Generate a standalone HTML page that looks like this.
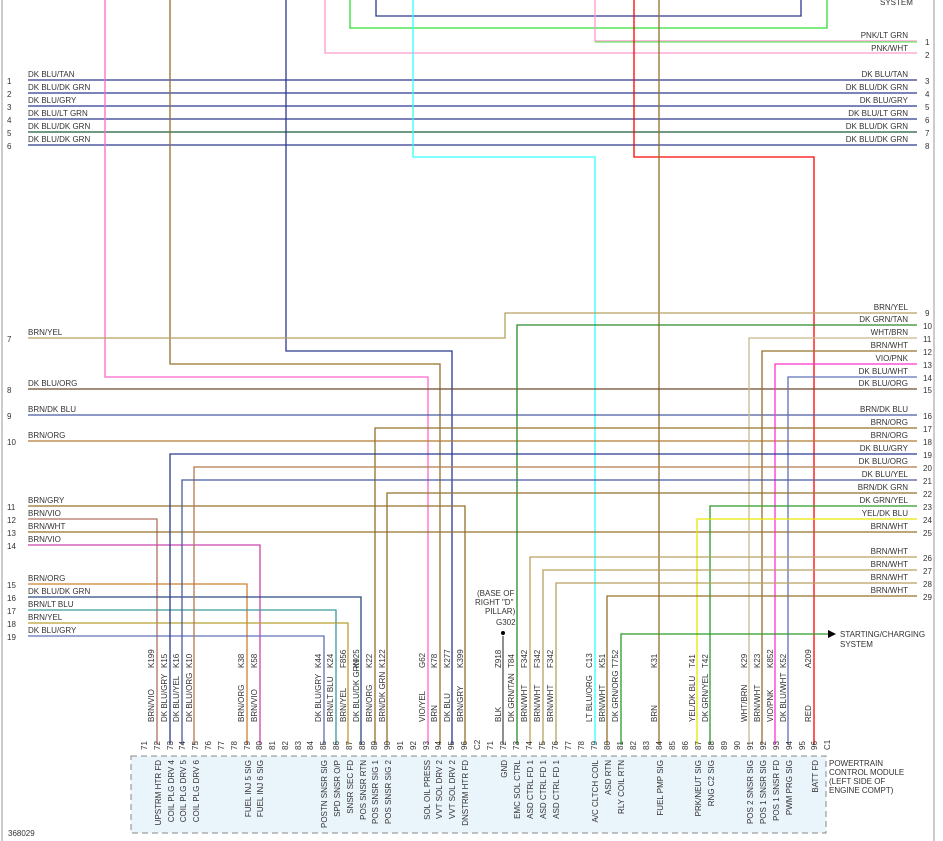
<!DOCTYPE html>
<html><head><style>
body{margin:0;background:#fff}
svg{display:block}
text{font-family:"Liberation Sans",sans-serif;font-size:8px;fill:#333}
</style></head><body>
<svg width="943" height="841" viewBox="0 0 943 841" xmlns="http://www.w3.org/2000/svg">
<line x1="2" y1="0" x2="2" y2="841" stroke="#999" stroke-width="1"/>
<line x1="934" y1="0" x2="934" y2="841" stroke="#999" stroke-width="1"/>
<g fill="none" stroke-width="1.3">
<polyline points="376,0 376,16 801,16 801,0" stroke="#2b3990"/>
<polyline points="350,0 350,28 827,28 827,0" stroke="#33dd33"/>
<polyline points="595,0 595,41 917,41" stroke="#ff99cc"/>
<line x1="595" y1="42" x2="917" y2="42" stroke="#66ee66"/>
<polyline points="325,0 325,53 917,53" stroke="#ff99cc"/>
<line x1="28" y1="80" x2="917" y2="80" stroke="#2b3990"/>
<line x1="28" y1="93" x2="917" y2="93" stroke="#2b3990"/>
<line x1="28" y1="106" x2="917" y2="106" stroke="#2b3990"/>
<line x1="28" y1="119" x2="917" y2="119" stroke="#2b3990"/>
<line x1="28" y1="132" x2="917" y2="132" stroke="#1a5a3a"/>
<line x1="28" y1="145" x2="917" y2="145" stroke="#2b3990"/>
<polyline points="105,0 105,377 428,377 428,745" stroke="#ff66cc"/>
<polyline points="170,0 170,364 440,364 440,745" stroke="#93712a"/>
<polyline points="286,0 286,351 452,351 452,745" stroke="#2b3990"/>
<polyline points="413,0 413,157 595,157 595,745" stroke="#33ffff"/>
<polyline points="634,0 634,157 814,157 814,745" stroke="#ff0000"/>
<line x1="659" y1="0" x2="659" y2="745" stroke="#93712a"/>
<polyline points="28,338 505,338 505,313 917,313" stroke="#b8a060"/>
<line x1="28" y1="389" x2="917" y2="389" stroke="#6b4a2a"/>
<line x1="28" y1="415" x2="917" y2="415" stroke="#4a5aa0"/>
<line x1="28" y1="441" x2="917" y2="441" stroke="#b07a30"/>
<polyline points="28,506 465,506 465,745" stroke="#93712a"/>
<polyline points="28,519 157,519 157,745" stroke="#b07060"/>
<line x1="28" y1="532" x2="917" y2="532" stroke="#93712a"/>
<polyline points="28,545 260,545 260,745" stroke="#cc44aa"/>
<polyline points="28,584 247,584 247,745" stroke="#d08030"/>
<polyline points="28,597 361,597 361,745" stroke="#2a4a80"/>
<polyline points="28,610 336,610 336,745" stroke="#3a9a9a"/>
<polyline points="28,623 348,623 348,745" stroke="#b8a030"/>
<polyline points="28,636 324,636 324,745" stroke="#6070b8"/>
<polyline points="517,745 517,325 917,325" stroke="#2a8a2a"/>
<polyline points="749,745 749,338 917,338" stroke="#c8b98a"/>
<polyline points="762,745 762,351 917,351" stroke="#93712a"/>
<polyline points="775,745 775,364 917,364" stroke="#ff33cc"/>
<polyline points="788,745 788,377 917,377" stroke="#6070b8"/>
<polyline points="375,745 375,428 917,428" stroke="#93712a"/>
<polyline points="170,745 170,454 917,454" stroke="#2b3990"/>
<polyline points="194,745 194,467 917,467" stroke="#b07a50"/>
<polyline points="182,745 182,480 917,480" stroke="#4a5aa0"/>
<polyline points="387,745 387,493 917,493" stroke="#93712a"/>
<polyline points="710,745 710,506 917,506" stroke="#2a9a2a"/>
<polyline points="697,745 697,519 917,519" stroke="#e6e600"/>
<polyline points="530,745 530,557 917,557" stroke="#b8a060"/>
<polyline points="543,745 543,570 917,570" stroke="#b8a060"/>
<polyline points="556,745 556,583 917,583" stroke="#b8a060"/>
<polyline points="607,745 607,596 917,596" stroke="#93712a"/>
<polyline points="621,745 621,634 828,634" stroke="#2a9a2a"/>
<line x1="503" y1="636" x2="503" y2="745" stroke="#555"/>
</g>
<polygon points="828,630 836,634 828,638" fill="#000"/>
<text x="840" y="637">STARTING/CHARGING</text><text x="840" y="647">SYSTEM</text>
<text x="880" y="5">SYSTEM</text>
<circle cx="503" cy="633" r="2" fill="#000"/>
<text x="477" y="596">(BASE OF</text><text x="475" y="605">RIGHT "D"</text><text x="485" y="614">PILLAR)</text><text x="496" y="625">G302</text>
<g>
<text x="28" y="77">DK BLU/TAN</text><text x="28" y="90">DK BLU/DK GRN</text><text x="28" y="103">DK BLU/GRY</text><text x="28" y="116">DK BLU/LT GRN</text><text x="28" y="129">DK BLU/DK GRN</text><text x="28" y="142">DK BLU/DK GRN</text>
<text x="7" y="84">1</text><text x="7" y="97">2</text><text x="7" y="110">3</text><text x="7" y="123">4</text><text x="7" y="136">5</text><text x="7" y="149">6</text>
<text x="28" y="335">BRN/YEL</text><text x="7" y="342">7</text>
<text x="28" y="386">DK BLU/ORG</text><text x="7" y="393">8</text>
<text x="28" y="412">BRN/DK BLU</text><text x="7" y="419">9</text>
<text x="28" y="438">BRN/ORG</text><text x="7" y="445">10</text>
<text x="28" y="503">BRN/GRY</text><text x="7" y="510">11</text>
<text x="28" y="516">BRN/VIO</text><text x="7" y="523">12</text>
<text x="28" y="529">BRN/WHT</text><text x="7" y="536">13</text>
<text x="28" y="542">BRN/VIO</text><text x="7" y="549">14</text>
<text x="28" y="581">BRN/ORG</text><text x="7" y="588">15</text>
<text x="28" y="594">DK BLU/DK GRN</text><text x="7" y="601">16</text>
<text x="28" y="607">BRN/LT BLU</text><text x="7" y="614">17</text>
<text x="28" y="620">BRN/YEL</text><text x="7" y="627">18</text>
<text x="28" y="633">DK BLU/GRY</text><text x="7" y="640">19</text>
</g>
<g text-anchor="end">
<text x="908" y="38">PNK/LT GRN</text><text x="908" y="51">PNK/WHT</text>
<text x="908" y="77">DK BLU/TAN</text><text x="908" y="90">DK BLU/DK GRN</text><text x="908" y="103">DK BLU/GRY</text><text x="908" y="116">DK BLU/LT GRN</text><text x="908" y="129">DK BLU/DK GRN</text><text x="908" y="142">DK BLU/DK GRN</text>
<text x="908" y="310">BRN/YEL</text><text x="908" y="322">DK GRN/TAN</text><text x="908" y="335">WHT/BRN</text><text x="908" y="348">BRN/WHT</text><text x="908" y="361">VIO/PNK</text><text x="908" y="374">DK BLU/WHT</text><text x="908" y="386">DK BLU/ORG</text><text x="908" y="412">BRN/DK BLU</text><text x="908" y="425">BRN/ORG</text><text x="908" y="438">BRN/ORG</text><text x="908" y="451">DK BLU/GRY</text><text x="908" y="464">DK BLU/ORG</text><text x="908" y="477">DK BLU/YEL</text><text x="908" y="490">BRN/DK GRN</text><text x="908" y="503">DK GRN/YEL</text><text x="908" y="516">YEL/DK BLU</text><text x="908" y="529">BRN/WHT</text><text x="908" y="554">BRN/WHT</text><text x="908" y="567">BRN/WHT</text><text x="908" y="580">BRN/WHT</text><text x="908" y="593">BRN/WHT</text>
</g>
<g>
<text x="925" y="45">1</text><text x="925" y="58">2</text><text x="925" y="84">3</text><text x="925" y="97">4</text><text x="925" y="110">5</text><text x="925" y="123">6</text><text x="925" y="136">7</text><text x="925" y="149">8</text>
<text x="925" y="316">9</text><text x="923" y="329">10</text><text x="923" y="342">11</text><text x="923" y="355">12</text><text x="923" y="368">13</text><text x="923" y="381">14</text><text x="923" y="393">15</text><text x="923" y="419">16</text><text x="923" y="432">17</text><text x="923" y="445">18</text><text x="923" y="458">19</text><text x="923" y="471">20</text><text x="923" y="484">21</text><text x="923" y="497">22</text><text x="923" y="510">23</text><text x="923" y="523">24</text><text x="923" y="536">25</text><text x="923" y="561">26</text><text x="923" y="574">27</text><text x="923" y="587">28</text><text x="923" y="600">29</text>
</g>
<rect x="131" y="756" width="695" height="77" fill="#eaf4fb" stroke="#888" stroke-dasharray="6,4"/>
<text x="829" y="766">POWERTRAIN</text><text x="829" y="775">CONTROL MODULE</text><text x="829" y="784">(LEFT SIDE OF</text><text x="829" y="793">ENGINE COMPT)</text>
<text x="8" y="836">368029</text>
<g>
<text transform="translate(147,750) rotate(-90)">71</text><text transform="translate(160,750) rotate(-90)">72</text><text transform="translate(173,750) rotate(-90)">73</text><text transform="translate(185,750) rotate(-90)">74</text><text transform="translate(198,750) rotate(-90)">75</text><text transform="translate(211,750) rotate(-90)">76</text><text transform="translate(224,750) rotate(-90)">77</text><text transform="translate(237,750) rotate(-90)">78</text><text transform="translate(250,750) rotate(-90)">79</text><text transform="translate(262,750) rotate(-90)">80</text><text transform="translate(275,750) rotate(-90)">81</text><text transform="translate(288,750) rotate(-90)">82</text><text transform="translate(301,750) rotate(-90)">83</text><text transform="translate(313,750) rotate(-90)">84</text><text transform="translate(326,750) rotate(-90)">85</text><text transform="translate(339,750) rotate(-90)">86</text><text transform="translate(352,750) rotate(-90)">87</text><text transform="translate(365,750) rotate(-90)">88</text><text transform="translate(377,750) rotate(-90)">89</text><text transform="translate(390,750) rotate(-90)">90</text><text transform="translate(403,750) rotate(-90)">91</text><text transform="translate(416,750) rotate(-90)">92</text><text transform="translate(429,750) rotate(-90)">93</text><text transform="translate(441,750) rotate(-90)">94</text><text transform="translate(454,750) rotate(-90)">95</text><text transform="translate(467,750) rotate(-90)">96</text><text transform="translate(480,750) rotate(-90)">C2</text>
<text transform="translate(493,750) rotate(-90)">71</text><text transform="translate(506,750) rotate(-90)">72</text><text transform="translate(519,750) rotate(-90)">73</text><text transform="translate(532,750) rotate(-90)">74</text><text transform="translate(545,750) rotate(-90)">75</text><text transform="translate(558,750) rotate(-90)">76</text><text transform="translate(571,750) rotate(-90)">77</text><text transform="translate(584,750) rotate(-90)">78</text><text transform="translate(597,750) rotate(-90)">79</text><text transform="translate(610,750) rotate(-90)">80</text><text transform="translate(623,750) rotate(-90)">81</text><text transform="translate(636,750) rotate(-90)">82</text><text transform="translate(649,750) rotate(-90)">83</text><text transform="translate(662,750) rotate(-90)">84</text><text transform="translate(675,750) rotate(-90)">85</text><text transform="translate(688,750) rotate(-90)">86</text><text transform="translate(701,750) rotate(-90)">87</text><text transform="translate(714,750) rotate(-90)">88</text><text transform="translate(727,750) rotate(-90)">89</text><text transform="translate(740,750) rotate(-90)">90</text><text transform="translate(753,750) rotate(-90)">91</text><text transform="translate(766,750) rotate(-90)">92</text><text transform="translate(779,750) rotate(-90)">93</text><text transform="translate(792,750) rotate(-90)">94</text><text transform="translate(805,750) rotate(-90)">95</text><text transform="translate(817,750) rotate(-90)">96</text><text transform="translate(830,750) rotate(-90)">C1</text>
</g>
<g text-anchor="end">
<text transform="translate(161,760) rotate(-90)">UPSTRM HTR FD</text><text transform="translate(174,760) rotate(-90)">COIL PLG DRV 4</text><text transform="translate(186,760) rotate(-90)">COIL PLG DRV 5</text><text transform="translate(199,760) rotate(-90)">COIL PLG DRV 6</text>
<text transform="translate(251,760) rotate(-90)">FUEL INJ 5 SIG</text><text transform="translate(263,760) rotate(-90)">FUEL INJ 6 SIG</text>
<text transform="translate(327,760) rotate(-90)">POSTN SNSR SIG</text><text transform="translate(340,760) rotate(-90)">SPD SNSR O/P</text><text transform="translate(353,760) rotate(-90)">SNSR SEC FD</text><text transform="translate(366,760) rotate(-90)">POS SNSR RTN</text><text transform="translate(378,760) rotate(-90)">POS SNSR SIG 1</text><text transform="translate(391,760) rotate(-90)">POS SNSR SIG 2</text>
<text transform="translate(430,760) rotate(-90)">SOL OIL PRESS</text><text transform="translate(442,760) rotate(-90)">VVT SOL DRV 2</text><text transform="translate(455,760) rotate(-90)">VVT SOL DRV 2</text><text transform="translate(468,760) rotate(-90)">DNSTRM HTR FD</text>
<text transform="translate(507,760) rotate(-90)">GND</text><text transform="translate(520,760) rotate(-90)">EMC SOL CTRL</text><text transform="translate(533,760) rotate(-90)">ASD CTRL FD 1</text><text transform="translate(546,760) rotate(-90)">ASD CTRL FD 1</text><text transform="translate(559,760) rotate(-90)">ASD CTRL FD 1</text>
<text transform="translate(598,760) rotate(-90)">A/C CLTCH COIL</text><text transform="translate(611,760) rotate(-90)">ASD RTN</text><text transform="translate(624,760) rotate(-90)">RLY COIL RTN</text><text transform="translate(663,760) rotate(-90)">FUEL PMP SIG</text>
<text transform="translate(701,760) rotate(-90)">PRK/NEUT SIG</text><text transform="translate(714,760) rotate(-90)">RNG C2 SIG</text><text transform="translate(753,760) rotate(-90)">POS 2 SNSR SIG</text><text transform="translate(766,760) rotate(-90)">POS 1 SNSR SIG</text><text transform="translate(779,760) rotate(-90)">POS 1 SNSR FD</text><text transform="translate(792,760) rotate(-90)">PWM PRG SIG</text><text transform="translate(818,760) rotate(-90)">BATT FD</text>
</g>
<g text-anchor="start">
<text transform="translate(154,722) rotate(-90)">BRN/VIO</text><text transform="translate(167,722) rotate(-90)">DK BLU/GRY</text><text transform="translate(179,722) rotate(-90)">DK BLU/YEL</text><text transform="translate(192,722) rotate(-90)">DK BLU/ORG</text>
<text transform="translate(244,722) rotate(-90)">BRN/ORG</text><text transform="translate(257,722) rotate(-90)">BRN/VIO</text>
<text transform="translate(321,722) rotate(-90)">DK BLU/GRY</text><text transform="translate(333,722) rotate(-90)">BRN/LT BLU</text><text transform="translate(346,722) rotate(-90)">BRN/YEL</text><text transform="translate(359,722) rotate(-90)">DK BLU/DK GRN</text><text transform="translate(372,722) rotate(-90)">BRN/ORG</text><text transform="translate(385,722) rotate(-90)">BRN/DK GRN</text>
<text transform="translate(425,722) rotate(-90)">VIO/YEL</text><text transform="translate(437,722) rotate(-90)">BRN</text><text transform="translate(450,722) rotate(-90)">DK BLU</text><text transform="translate(463,722) rotate(-90)">BRN/GRY</text>
<text transform="translate(501,722) rotate(-90)">BLK</text><text transform="translate(514,722) rotate(-90)">DK GRN/TAN</text><text transform="translate(527,722) rotate(-90)">BRN/WHT</text><text transform="translate(540,722) rotate(-90)">BRN/WHT</text><text transform="translate(553,722) rotate(-90)">BRN/WHT</text>
<text transform="translate(592,722) rotate(-90)">LT BLU/ORG</text><text transform="translate(605,722) rotate(-90)">BRN/WHT</text><text transform="translate(618,722) rotate(-90)">DK GRN/ORG</text><text transform="translate(657,722) rotate(-90)">BRN</text>
<text transform="translate(695,722) rotate(-90)">YEL/DK BLU</text><text transform="translate(708,722) rotate(-90)">DK GRN/YEL</text><text transform="translate(747,722) rotate(-90)">WHT/BRN</text><text transform="translate(760,722) rotate(-90)">BRN/WHT</text><text transform="translate(773,722) rotate(-90)">VIO/PNK</text><text transform="translate(786,722) rotate(-90)">DK BLU/WHT</text><text transform="translate(811,722) rotate(-90)">RED</text>
<text transform="translate(154,668) rotate(-90)">K199</text><text transform="translate(167,668) rotate(-90)">K15</text><text transform="translate(179,668) rotate(-90)">K16</text><text transform="translate(192,668) rotate(-90)">K10</text><text transform="translate(244,668) rotate(-90)">K38</text><text transform="translate(257,668) rotate(-90)">K58</text>
<text transform="translate(321,668) rotate(-90)">K44</text><text transform="translate(333,668) rotate(-90)">K24</text><text transform="translate(346,668) rotate(-90)">F856</text><text transform="translate(359,668) rotate(-90)">K925</text><text transform="translate(372,668) rotate(-90)">K22</text><text transform="translate(385,668) rotate(-90)">K122</text>
<text transform="translate(425,668) rotate(-90)">G62</text><text transform="translate(437,668) rotate(-90)">K78</text><text transform="translate(450,668) rotate(-90)">K277</text><text transform="translate(463,668) rotate(-90)">K399</text>
<text transform="translate(501,668) rotate(-90)">Z918</text><text transform="translate(514,668) rotate(-90)">T84</text><text transform="translate(527,668) rotate(-90)">F342</text><text transform="translate(540,668) rotate(-90)">F342</text><text transform="translate(553,668) rotate(-90)">F342</text>
<text transform="translate(592,668) rotate(-90)">C13</text><text transform="translate(605,668) rotate(-90)">K51</text><text transform="translate(618,668) rotate(-90)">T752</text><text transform="translate(657,668) rotate(-90)">K31</text>
<text transform="translate(695,668) rotate(-90)">T41</text><text transform="translate(708,668) rotate(-90)">T42</text><text transform="translate(747,668) rotate(-90)">K29</text><text transform="translate(760,668) rotate(-90)">K23</text><text transform="translate(773,668) rotate(-90)">K852</text><text transform="translate(786,668) rotate(-90)">K52</text><text transform="translate(811,668) rotate(-90)">A209</text>
</g>
</svg>
</body></html>
